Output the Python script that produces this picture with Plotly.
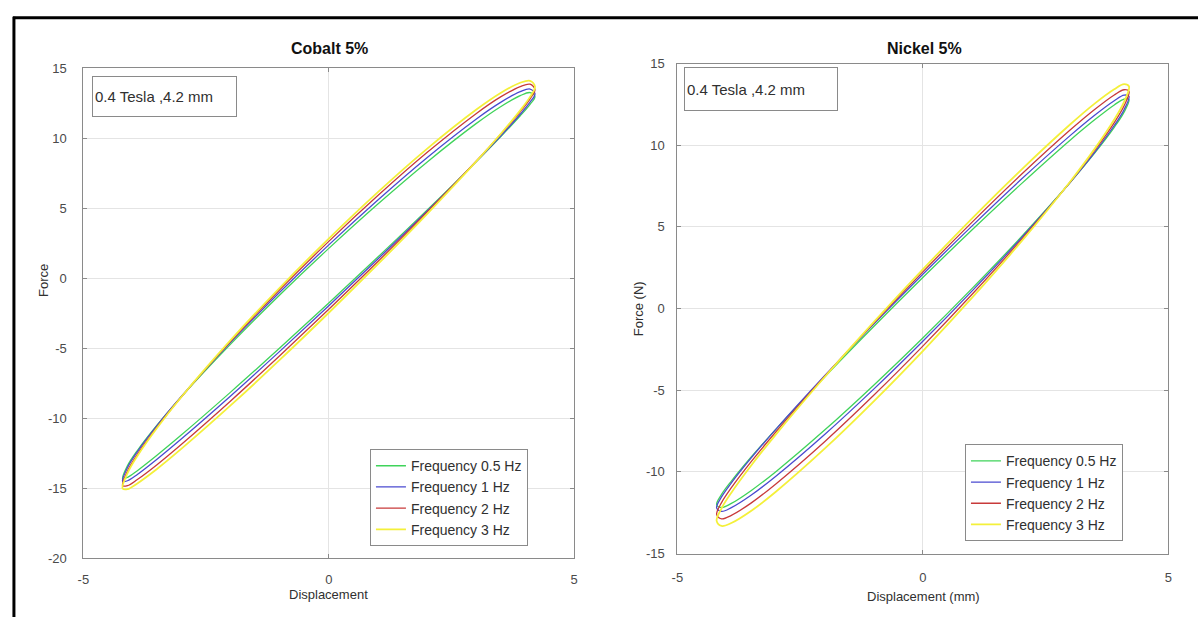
import plotly.graph_objects as go

# ---------------- data ----------------
disp_up = [-4.2, -4.1, -3.9, -3.5, -3.0, -2.0, -1.0, 0.0, 1.0, 2.0, 3.0, 3.5, 3.9, 4.1, 4.2]

freq_labels = ["Frequency 0.5 Hz", "Frequency 1 Hz", "Frequency 2 Hz", "Frequency 3 Hz"]
colors = ["#3fd35a", "#4a4ad0", "#c83a3a", "#f4f03a"]
widths = [1.3, 1.3, 1.3, 1.8]

# Cobalt 5% : upper branch (x increasing) and lower branch (same x, returning)
cobalt_up_05 = [-14.30, -13.37, -12.29, -10.48, -8.44, -4.69, -1.18, 2.15, 5.32, 8.31, 11.06, 12.27, 13.06, 13.28, 13.00]
cobalt_lo_05 = [-14.30, -14.21, -13.73, -12.63, -11.17, -8.12, -4.97, -1.75, 1.53, 4.88, 8.33, 10.12, 11.62, 12.44, 13.00]
cobalt_up_1 = [-14.50, -13.51, -12.38, -10.51, -8.41, -4.56, -0.99, 2.40, 5.61, 8.63, 11.38, 12.58, 13.34, 13.53, 13.20]
cobalt_lo_1 = [-14.50, -14.45, -14.00, -12.91, -11.45, -8.39, -5.21, -1.95, 1.39, 4.80, 8.33, 10.17, 11.73, 12.59, 13.20]
cobalt_up_2 = [-14.80, -13.75, -12.56, -10.62, -8.45, -4.49, -0.81, 2.65, 5.92, 8.99, 11.77, 12.97, 13.71, 13.88, 13.50]
cobalt_lo_2 = [-14.80, -14.80, -14.36, -13.30, -11.84, -8.75, -5.52, -2.20, 1.21, 4.73, 8.37, 10.29, 11.91, 12.83, 13.50]
cobalt_up_3 = [-15.00, -13.90, -12.68, -10.68, -8.45, -4.41, -0.67, 2.85, 6.17, 9.26, 12.05, 13.25, 13.98, 14.12, 13.70]
cobalt_lo_3 = [-15.00, -15.05, -14.64, -13.61, -12.16, -9.07, -5.82, -2.45, 1.02, 4.60, 8.34, 10.32, 12.01, 12.97, 13.70]

# Nickel 5%
nickel_up_05 = [-12.00, -11.38, -10.56, -9.10, -7.41, -4.19, -1.10, 1.90, 4.81, 7.62, 10.31, 11.56, 12.47, 12.83, 12.80]
nickel_lo_05 = [-12.00, -12.18, -11.93, -11.15, -10.00, -7.44, -4.69, -1.80, 1.22, 4.37, 7.72, 9.52, 11.10, 12.03, 12.80]
nickel_up_1 = [-12.20, -11.53, -10.67, -9.16, -7.41, -4.11, -0.95, 2.10, 5.05, 7.90, 10.59, 11.84, 12.73, 13.07, 13.00]
nickel_lo_1 = [-12.20, -12.42, -12.19, -11.43, -10.28, -7.71, -4.93, -2.00, 1.07, 4.29, 7.72, 9.57, 11.21, 12.18, 13.00]
nickel_up_2 = [-12.60, -11.88, -10.97, -9.39, -7.57, -4.15, -0.89, 2.25, 5.28, 8.19, 10.93, 12.19, 13.08, 13.40, 13.30]
nickel_lo_2 = [-12.60, -12.87, -12.66, -11.91, -10.75, -8.15, -5.31, -2.30, 0.86, 4.19, 7.74, 9.68, 11.39, 12.42, 13.30]
nickel_up_3 = [-13.00, -12.23, -11.27, -9.62, -7.73, -4.19, -0.83, 2.40, 5.51, 8.48, 11.27, 12.55, 13.43, 13.74, 13.60]
nickel_lo_3 = [-13.00, -13.31, -13.13, -12.39, -11.23, -8.58, -5.68, -2.60, 0.65, 4.08, 7.77, 9.78, 11.58, 12.66, 13.60]

x_ticks = [-5, 0, 5]
x_tick_text = ["-5", "0", "5"]
cobalt_y_ticks = [-20, -15, -10, -5, 0, 5, 10, 15]
cobalt_y_text = ["-20", "-15", "-10", "-5", "0", "5", "10", "15"]
nickel_y_ticks = [-15, -10, -5, 0, 5, 10, 15]
nickel_y_text = ["-15", "-10", "-5", "0", "5", "10", "15"]

cobalt_up = [cobalt_up_05, cobalt_up_1, cobalt_up_2, cobalt_up_3]
cobalt_lo = [cobalt_lo_05, cobalt_lo_1, cobalt_lo_2, cobalt_lo_3]
nickel_up = [nickel_up_05, nickel_up_1, nickel_up_2, nickel_up_3]
nickel_lo = [nickel_lo_05, nickel_lo_1, nickel_lo_2, nickel_lo_3]

# ---------------- figure ----------------
W, H = 1202, 625
FONT = "Liberation Sans, Arial, sans-serif"

def px(x):
    return x / W

def py(y):
    return 1 - y / H

fig = go.Figure()

loop_x = disp_up[:-1] + disp_up[::-1]

for i in range(4):
    fig.add_trace(go.Scatter(
        x=loop_x, y=cobalt_up[i][:-1] + cobalt_lo[i][::-1],
        mode="lines", line=dict(color=colors[i], width=widths[i], shape="spline", smoothing=1.0),
        name=freq_labels[i], xaxis="x", yaxis="y", legend="legend"))
for i in range(4):
    fig.add_trace(go.Scatter(
        x=loop_x, y=nickel_up[i][:-1] + nickel_lo[i][::-1],
        mode="lines", line=dict(color=colors[i], width=widths[i], shape="spline", smoothing=1.0),
        name=freq_labels[i], xaxis="x2", yaxis="y2", legend="legend2"))

axis_common = dict(
    showline=True, mirror="ticks", linecolor="#8a8a8a", linewidth=1,
    showgrid=True, gridcolor="#e4e4e4", gridwidth=1, zeroline=False,
    ticks="inside", ticklen=4, tickcolor="#8a8a8a",
    tickfont=dict(family=FONT, size=13, color="#4a4a4a"),
    fixedrange=True,
)

fig.update_layout(
    width=W, height=H,
    margin=dict(l=0, r=0, t=0, b=0),
    paper_bgcolor="white", plot_bgcolor="white",
    xaxis=dict(domain=[px(78), px(573)], range=[-5, 5], tickvals=x_ticks, ticktext=x_tick_text,
               anchor="y", ticklabelstandoff=9, **axis_common),
    yaxis=dict(domain=[py(565), py(63)], range=[-20, 15], tickvals=cobalt_y_ticks, ticktext=cobalt_y_text,
               anchor="x", ticklabelstandoff=13, **axis_common),
    xaxis2=dict(domain=[px(677), px(1172)], range=[-5, 5], tickvals=x_ticks, ticktext=x_tick_text,
                anchor="y2", ticklabelstandoff=12, **axis_common),
    yaxis2=dict(domain=[py(560), py(58)], range=[-15, 15], tickvals=nickel_y_ticks, ticktext=nickel_y_text,
                anchor="x2", ticklabelstandoff=9, **axis_common),
    legend=dict(x=px(367), y=py(453), xanchor="left", yanchor="top",
                bgcolor="white", bordercolor="#8a8a8a", borderwidth=1,
                font=dict(family=FONT, size=14, color="#303030"),
                tracegroupgap=0, itemwidth=30),
    legend2=dict(x=px(967), y=py(448), xanchor="left", yanchor="top",
                 bgcolor="white", bordercolor="#8a8a8a", borderwidth=1,
                 font=dict(family=FONT, size=14, color="#303030"),
                 tracegroupgap=0, itemwidth=30),
    showlegend=True,
)

annotations = [
    dict(text="<b>Cobalt 5%</b>", x=px(326), y=py(43), font=dict(family=FONT, size=16, color="#111111")),
    dict(text="<b>Nickel 5%</b>", x=px(926), y=py(43), font=dict(family=FONT, size=16, color="#111111")),
    dict(text="Displacement", x=px(325), y=py(602), font=dict(family=FONT, size=13, color="#303030")),
    dict(text="Displacement (mm)", x=px(925), y=py(604), font=dict(family=FONT, size=13, color="#303030")),
    dict(text="Force", x=px(38), y=py(280), textangle=-90, font=dict(family=FONT, size=13, color="#303030")),
    dict(text="Force (N)", x=px(638), y=py(309), textangle=-90, font=dict(family=FONT, size=13, color="#303030")),
    dict(text="0.4 Tesla ,4.2 mm", x=px(160), y=py(92), width=139, height=35, align="left",
         bordercolor="#8a8a8a", borderwidth=1, borderpad=2, bgcolor="white",
         font=dict(family=FONT, size=15, color="#303030")),
    dict(text="0.4 Tesla ,4.2 mm", x=px(761), y=py(84), width=148, height=38, align="left",
         bordercolor="#8a8a8a", borderwidth=1, borderpad=2, bgcolor="white",
         font=dict(family=FONT, size=15, color="#303030")),
]
for a in annotations:
    a.update(xref="paper", yref="paper", showarrow=False, xanchor="center", yanchor="middle")
fig.update_layout(annotations=annotations)

# black frame (top and left edges of the screenshot border)
fig.update_layout(shapes=[
    dict(type="line", xref="paper", yref="paper", x0=px(7), x1=1.0, y0=py(11), y1=py(11),
         line=dict(color="black", width=3)),
    dict(type="line", xref="paper", yref="paper", x0=px(8), x1=px(8), y0=py(10), y1=0.0,
         line=dict(color="black", width=3)),
])

fig.write_html("out.html", config={"displayModeBar": False})
